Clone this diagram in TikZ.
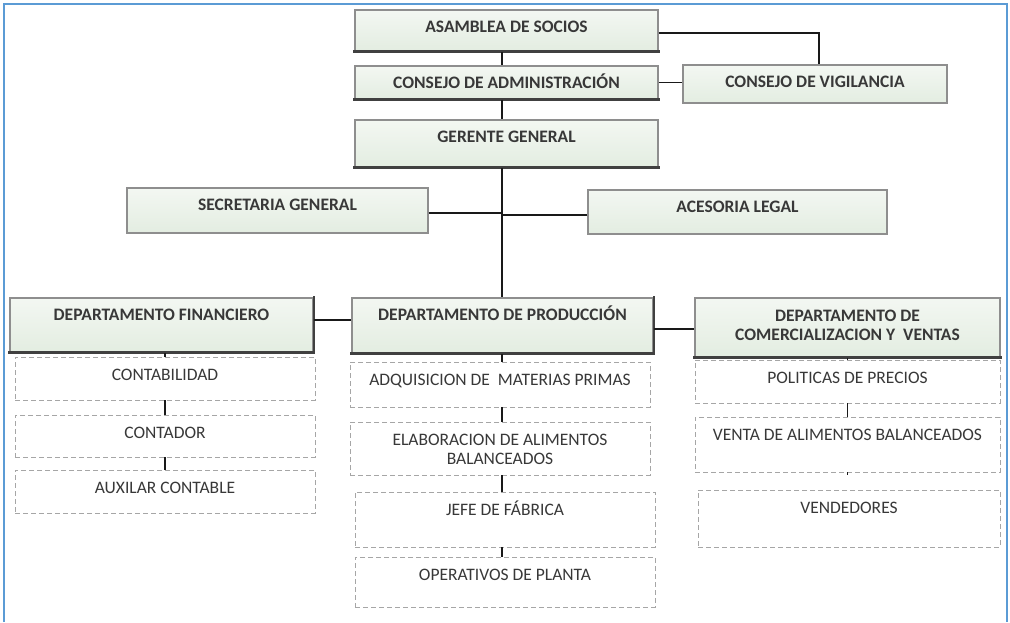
\documentclass[tikz,border=0pt]{standalone}
\usepackage{fontspec}
\setmainfont{Carlito}
\definecolor{frameblue}{HTML}{5B9BD5}
\definecolor{boxtop}{HTML}{F3F7F2}
\definecolor{boxbot}{HTML}{E3EDE1}
\definecolor{boxline}{HTML}{8E8E8E}
\definecolor{dashline}{HTML}{A6A6A6}
\definecolor{ink}{HTML}{383838}
\tikzset{
  lblbase/.style={anchor=north, yshift=-12pt, inner sep=0pt, align=center, text=ink,
                  font=\fontsize{17.5}{19}\selectfont},
  lbl/.style={lblbase, text height=11.3pt},
  bold/.style={font=\fontsize{17.5}{19}\selectfont\bfseries},
  boxbase/.style={draw=boxline, line width=1.3pt, top color=boxtop, bottom color=boxbot, inner sep=0pt},
  dashbase/.style={draw=dashline, line width=0.9pt, dash pattern=on 5pt off 3pt, fill=white, inner sep=0pt},
  % one-line and two-line titles
  hbox/.style={boxbase, label={[lbl, bold]north:#1}},
  hboxm/.style={boxbase, label={[lblbase, bold]north:#1}},
  dbox/.style={dashbase, label={[lbl]north:#1}},
  dboxm/.style={dashbase, label={[lblbase]north:#1}},
  link/.style={line width=1.5pt, draw=black!90},
  shadowedge/.style={line width=2.6pt, draw=black!75, line cap=rect},
}
\begin{document}
\begin{tikzpicture}[x=1pt, y=-1pt]
  \useasboundingbox (0,0) rectangle (1010,622);
  % outer frame (open at the bottom)
  \draw[frameblue, line width=2.4pt] (4,622) -- (4,4) -- (1007,4) -- (1007,622);

  % governing bodies
  \node[hbox={ASAMBLEA DE SOCIOS}, minimum width=303pt, minimum height=41pt] (asamblea) at (506.5,30.5) {};
  \node[hbox={CONSEJO DE ADMINISTRACIÓN}, minimum width=303pt, minimum height=33pt] (consejo) at (506.5,82.5) {};
  \node[hbox={GERENTE GENERAL}, minimum width=303pt, minimum height=47pt] (gerente) at (506.5,143.5) {};
  \node[hbox={CONSEJO DE VIGILANCIA}, minimum width=264pt, minimum height=38pt] (vigil) at (815,84) {};
  \node[hbox={SECRETARIA GENERAL}, minimum width=301pt, minimum height=45pt] (secret) at (277.5,210.5) {};
  \node[hbox={ACESORIA LEGAL}, minimum width=299pt, minimum height=44pt] (acesor) at (737.5,212) {};

  % departments
  \node[hbox={DEPARTAMENTO FINANCIERO}, minimum width=303pt, minimum height=54pt] (finan) at (161.5,325) {};
  \node[hbox={DEPARTAMENTO DE PRODUCCIÓN}, minimum width=301pt, minimum height=55pt] (produc) at (502.5,325.5) {};
  \node[hboxm={DEPARTAMENTO DE\\COMERCIALIZACION Y\ \ VENTAS}, minimum width=305pt, minimum height=59pt] (comerc) at (847.5,327.5) {};

  % darker lower edges of the main boxes
  \foreach \n in {asamblea,consejo,gerente,finan,produc,comerc}
    \draw[shadowedge] (\n.south west) -- (\n.south east);
  \foreach \n in {finan,produc}
    \draw[shadowedge, line width=1.8pt] (\n.south east) -- (\n.north east);

  % units under each department
  \node[dbox={CONTABILIDAD}, minimum width=300pt, minimum height=43pt] (contab) at (165,378.5) {};
  \node[dbox={CONTADOR}, minimum width=300pt, minimum height=42pt] (contador) at (165,436) {};
  \node[dbox={AUXILAR CONTABLE}, minimum width=300pt, minimum height=43pt] (auxil) at (165,491.5) {};

  \node[dbox={ADQUISICION DE\ \ MATERIAS PRIMAS}, minimum width=300pt, minimum height=45pt] (adq) at (500,384.5) {};
  \node[dboxm={ELABORACION DE ALIMENTOS\\BALANCEADOS}, minimum width=300pt, minimum height=53pt] (elab) at (500,448.5) {};
  \node[dbox={JEFE DE FÁBRICA}, minimum width=300pt, minimum height=55pt] (jefe) at (505,519.5) {};
  \node[dbox={OPERATIVOS DE PLANTA}, minimum width=300pt, minimum height=50pt] (oper) at (505,582) {};

  \node[dbox={POLITICAS DE PRECIOS}, minimum width=305pt, minimum height=43pt] (polit) at (847.5,381.5) {};
  \node[dbox={VENTA DE ALIMENTOS BALANCEADOS}, minimum width=305pt, minimum height=55pt] (venta) at (847.5,444.5) {};
  \node[dbox={VENDEDORES}, minimum width=302pt, minimum height=57pt] (vended) at (849,518.5) {};

  % main trunk
  \coordinate (trunk) at (502,0);
  \draw[link] (asamblea.south -| trunk) -- (consejo.north -| trunk);
  \draw[link] (consejo.south -| trunk) -- (gerente.north -| trunk);
  \draw[link] (gerente.south -| trunk) -- (produc.north -| trunk);

  % governing links
  \draw[link] ([yshift=-2.5pt]asamblea.east) -| ([xshift=4pt]vigil.north);
  \draw[link] (consejo.east) -- (consejo.east -| vigil.west);

  % staff links
  \draw[link] ([yshift=-2.5pt]secret.east) -- ([yshift=-2.5pt]secret.east -| trunk);
  \draw[link] ([yshift=-3pt]acesor.west) -- ([yshift=-3pt]acesor.west -| trunk);

  % department links
  \draw[link] ([yshift=5pt]finan.east) -- ([yshift=5pt]finan.east -| produc.west);
  \draw[link] ([yshift=-3.5pt]produc.east) -- ([yshift=-3.5pt]produc.east -| comerc.west);

  % unit chains
  \draw[link] (finan.south -| contab.north) -- (contab.north);
  \draw[link] (contab.south) -- (contador.north);
  \draw[link] (contador.south) -- (auxil.north);

  \draw[link] (produc.south -| trunk) -- (adq.north -| trunk);
  \draw[link] (adq.south -| trunk) -- (elab.north -| trunk);
  \draw[link] (elab.south -| trunk) -- (jefe.north -| trunk);
  \draw[link] (jefe.south -| trunk) -- (oper.north -| trunk);

  \draw[link] (comerc.south) -- (polit.north);
  \draw[link] (polit.south) -- (venta.north);
  \coordinate (ventastub) at ([yshift=-3pt]venta.south);
  \draw[link] (venta.south) -- (ventastub);
\end{tikzpicture}
\end{document}
